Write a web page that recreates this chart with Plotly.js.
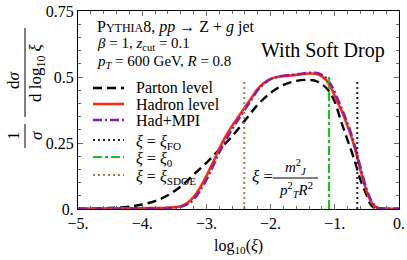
<!DOCTYPE html>
<html>
<head>
<meta charset="utf-8">
<script src="https://cdn.plot.ly/plotly-3.0.1.min.js"></script>
<style>html,body{margin:0;padding:0;background:#fff;}#chart{width:407px;height:260px;}</style>
</head>
<body>
<div id="chart"></div>
<script>
// ---- data ----
const xParton = [-5, -4.5, -4.2, -4.0, -3.8, -3.6, -3.4, -3.2, -3.0, -2.8, -2.6, -2.4, -2.2, -2.0, -1.8, -1.6, -1.4, -1.3, -1.2, -1.1, -1.0, -0.9, -0.8, -0.7, -0.6, -0.5, -0.45, -0.4, -0.3, 0];
const yParton = [0.001, 0.004, 0.009, 0.017, 0.03, 0.052, 0.085, 0.13, 0.175, 0.225, 0.275, 0.335, 0.395, 0.44, 0.47, 0.485, 0.489, 0.485, 0.472, 0.45, 0.405, 0.33, 0.26, 0.19, 0.11, 0.05, 0.02, 0.008, 0.002, 0.001];

const xHadron = [-5, -4.5, -4.0, -3.6, -3.4, -3.3, -3.2, -3.1, -3.0, -2.9, -2.8, -2.7, -2.6, -2.5, -2.4, -2.3, -2.2, -2.1, -2.0, -1.9, -1.8, -1.6, -1.4, -1.3, -1.2, -1.13, -1.05, -0.97, -0.89, -0.81, -0.73, -0.66, -0.58, -0.5, -0.42, -0.35, -0.3, 0];
const yHadron = [0.002, 0.002, 0.003, 0.005, 0.01, 0.022, 0.045, 0.08, 0.125, 0.175, 0.228, 0.275, 0.315, 0.35, 0.385, 0.42, 0.455, 0.478, 0.493, 0.5, 0.503, 0.508, 0.513, 0.512, 0.502, 0.487, 0.455, 0.41, 0.37, 0.32, 0.265, 0.205, 0.13, 0.065, 0.022, 0.006, 0.002, 0.001];
const yHadMPI = [0.001, 0.001, 0.002, 0.004, 0.008, 0.017, 0.035, 0.068, 0.11, 0.16, 0.213, 0.26, 0.302, 0.34, 0.377, 0.413, 0.45, 0.475, 0.492, 0.5, 0.505, 0.51, 0.516, 0.516, 0.508, 0.495, 0.467, 0.425, 0.38, 0.33, 0.275, 0.215, 0.14, 0.072, 0.027, 0.008, 0.003, 0.001];

const xiFO = -0.65, xiFOtop = 0.49;
const xi0 = -1.09, xi0top = 0.50;
const xiSDOE = -2.41, xiSDOEtop = 0.49;

const seriesNames = ['Parton level', 'Hadron level', 'Had+MPI',
  '<i>\u03be</i> = <i>\u03be</i><sub>FO</sub>', '<i>\u03be</i> = <i>\u03be</i><sub>0</sub>', '<i>\u03be</i> = <i>\u03be</i><sub>SDOE</sub>'];

const xTickVals = [-5, -4, -3, -2, -1, 0];
const xTickText = ['\u22125.', '\u22124.', '\u22123.', '\u22122.', '\u22121.', '0.'];
const yTickVals = [0, 0.25, 0.5, 0.75];
const yTickText = ['0.', '0.25', '0.5', '0.75'];

// ---- styles ----
const styles = [
  {color: '#000', width: 2.4, dash: '9px,5px'},
  {color: '#ff2a12', width: 2.6, dash: 'solid'},
  {color: '#8b1c9e', width: 2.4, dash: '9px,3px,2px,3px'},
  {color: '#222', width: 2, dash: '2px,3px'},
  {color: '#1fbf1f', width: 2.2, dash: '9px,3px,3px,3px'},
  {color: '#b07a40', width: 2, dash: '2px,3px'}
];

// ---- layout helpers (pixel -> paper) ----
const L = 78, R = 8, T = 11, B = 51, W = 407, H = 260;
const pw = W - L - R, ph = H - T - B;
const px = p => (p - L) / pw;
const py = p => (H - B - p) / ph;
const FONT = 'Liberation Serif';

const traces = [
  {x: xParton, y: yParton, name: seriesNames[0], mode: 'lines', line: Object.assign({shape: 'spline'}, styles[0])},
  {x: xHadron, y: yHadron, name: seriesNames[1], mode: 'lines', line: Object.assign({shape: 'spline'}, styles[1])},
  {x: xHadron, y: yHadMPI, name: seriesNames[2], mode: 'lines', line: Object.assign({shape: 'spline'}, styles[2])},
  {x: [xiFO, xiFO], y: [0, xiFOtop], name: seriesNames[3], mode: 'lines', line: styles[3]},
  {x: [xi0, xi0], y: [0, xi0top], name: seriesNames[4], mode: 'lines', line: styles[4]},
  {x: [xiSDOE, xiSDOE], y: [0, xiSDOEtop], name: seriesNames[5], mode: 'lines', line: styles[5]}
];

const ann = (x, y, text, size, xanchor, extra) => Object.assign({
  xref: 'paper', yref: 'paper', x: px(x), y: py(y), text: text, showarrow: false,
  xanchor: xanchor || 'left', yanchor: 'middle', font: {family: FONT, size: size || 14, color: '#000'}
}, extra || {});

const annotations = [
  ann(95, 27, 'P<span style="font-size:12px">YTHIA</span>8, <i>pp</i> \u2192 Z + <i>g</i> jet', 16),
  ann(95, 44, '<i>\u03b2</i> = 1, <i>z</i><sub>cut</sub> = 0.1', 15),
  ann(95, 62, '<i>p<sub>T</sub></i> = 600 GeV, <i>R</i> = 0.8', 15),
  ann(323, 50, 'With Soft Drop', 20, 'center'),
  ann(262, 176, '<i>\u03be</i> =', 17, 'center'),
  ann(296, 167, '<i>m</i><sup>2</sup><sub><i>J</i></sub>', 15, 'center'),
  ann(296, 190, '<i>p</i><sup>2</sup><sub><i>T</i></sub><i>R</i><sup>2</sup>', 15, 'center'),
  ann(13, 136, '1', 17, 'center', {textangle: -90}),
  ann(36, 136, '<i>\u03c3</i>', 17, 'center', {textangle: -90}),
  ann(13, 80, 'd<i>\u03c3</i>', 17, 'center', {textangle: -90}),
  ann(37, 73, 'd log<sub>10</sub> <i>\u03be</i>', 17, 'center', {textangle: -90}),
  ann(238, 247, 'log<sub>10</sub>(<i>\u03be</i>)', 16, 'center')
];

const shapes = [
  {type: 'line', xref: 'paper', yref: 'paper', x0: px(273), x1: px(318), y0: py(178), y1: py(178), line: {color: '#000', width: 1}},
  {type: 'line', xref: 'paper', yref: 'paper', x0: px(25), x1: px(25), y0: py(124), y1: py(148), line: {color: '#000', width: 1}},
  {type: 'line', xref: 'paper', yref: 'paper', x0: px(25), x1: px(25), y0: py(28), y1: py(117), line: {color: '#000', width: 1}}
];

// ---- legend (drawn as shapes + text to match the compact reference spacing) ----
const legendRows = [88, 104, 120, 140, 157, 175];
const legendTextShift = [0, 0, 0, 2, 2, 2];
seriesNames.forEach((name, i) => {
  const yy = legendRows[i];
  shapes.push({type: 'line', xref: 'paper', yref: 'paper', x0: px(93), x1: px(124), y0: py(yy), y1: py(yy),
    line: {color: styles[i].color, width: styles[i].width, dash: styles[i].dash}});
  annotations.push(ann(134, yy + legendTextShift[i], name, 16, 'left'));
});

const axisCommon = {
  showline: true, linecolor: '#000', linewidth: 1, mirror: 'allticks',
  ticks: 'inside', ticklen: 5, tickcolor: '#666', tickwidth: 1,
  showgrid: false, zeroline: false, tickmode: 'array',
  tickfont: {family: FONT, size: 16, color: '#000'}
};

const layout = {
  width: W, height: H,
  margin: {l: L, r: R, t: T, b: B, pad: 0},
  paper_bgcolor: '#fff', plot_bgcolor: '#fff',
  font: {family: FONT, color: '#000'},
  showlegend: false,
  xaxis: Object.assign({}, axisCommon, {
    range: [-5, 0], tickvals: xTickVals, ticktext: xTickText,
    minor: {dtick: 0.2, ticks: 'inside', ticklen: 3, tickcolor: '#666'}
  }),
  yaxis: Object.assign({}, axisCommon, {
    range: [0, 0.75], tickvals: yTickVals, ticktext: yTickText,
    minor: {dtick: 0.05, ticks: 'inside', ticklen: 3, tickcolor: '#666'}
  }),
  annotations: annotations,
  shapes: shapes
};

Plotly.newPlot('chart', traces, layout, {staticPlot: true, displayModeBar: false});
</script>
</body>
</html>
